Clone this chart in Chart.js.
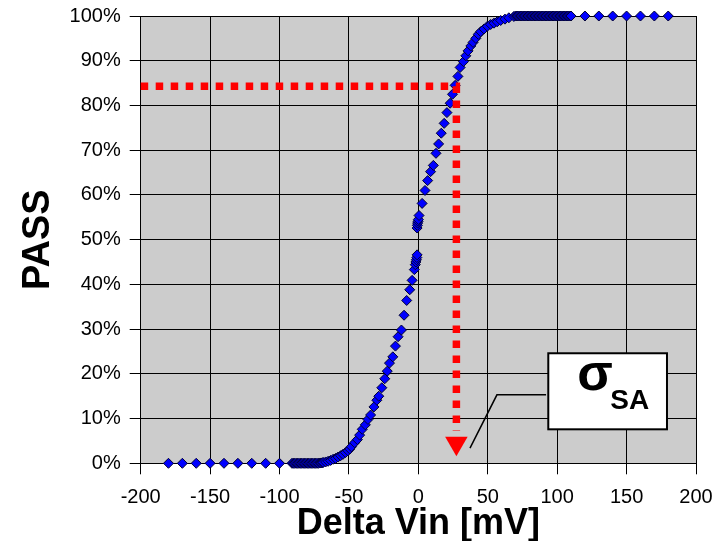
<!DOCTYPE html>
<html>
<head>
<meta charset="utf-8">
<script src="https://cdn.jsdelivr.net/npm/chart.js@4/dist/chart.umd.min.js"></script>
<style>
  html, body { margin: 0; padding: 0; background: #fff; }
</style>
</head>
<body>
<canvas id="grafico" width="724" height="541"></canvas>
<script>
// Delta Vin [mV]
const deltaVin = [
  -180, -170, -160, -150, -140, -130, -120, -110, -100,
  -91, -90, -89, -88, -87, -86, -85, -84, -83, -82, -81, -80,
  -79, -78, -77, -76, -75, -74, -73, -72, -71, -70, -69,
  -68.6, -66.8, -65.0, -63.2, -61.4, -59.6, -57.8, -56.0, -54.3, -52.5,
  -50.7, -49.4, -48.2, -45.9, -43.9, -42.3, -40.4, -38.2, -36.3, -34.4,
  -32.0, -29.9, -28.5, -26.3, -24.2, -22.4, -20.8, -18.4, -16.5, -14.6,
  -12.2, -10.3, -8.4, -6.2, -4.5, -2.9, -2.2, -1.8, -1.4, -1.1, -0.9,
  -0.9, -0.7, -0.5, -0.2, 0.0, 0.5, 2.7, 4.8, 6.7, 8.8, 10.8, 12.7,
  14.6, 16.5, 18.6, 20.6, 22.9, 24.6, 26.5, 28.5, 30.1, 32.5, 34.2,
  35.8, 37.8, 39.4, 41.4, 43.2, 44.9, 47.3, 49.7, 52.1, 54.5, 56.8,
  59.3, 62.4, 65.2, 68.8,
  70, 71, 72, 73, 74, 75, 76, 77, 78, 79, 80, 81, 82, 83, 84, 85,
  86, 87, 88, 89, 90, 91, 92, 93, 94, 95, 96, 97, 98, 99, 100,
  101, 102, 103, 104, 105, 106, 107, 108, 109, 110,
  120, 130, 140, 150, 160, 170, 180
];
// PASS [%]
const passPct = [
  0, 0, 0, 0, 0, 0, 0, 0, 0,
  0, 0, 0, 0, 0, 0, 0, 0, 0, 0, 0, 0,
  0, 0, 0, 0, 0, 0, 0, 0, 0.05, 0.08, 0.1,
  0.2, 0.3, 0.45, 0.65, 0.9, 1.1, 1.4, 1.7, 2.0, 2.4,
  2.8, 3.2, 3.7, 4.6, 5.3, 6.3, 7.6, 8.6, 9.8, 10.8,
  12.6, 14.1, 15.0, 16.9, 18.9, 20.6, 22.4, 23.8, 26.2, 28.3,
  29.8, 33.1, 36.4, 38.8, 40.9, 43.3, 44.4, 45.0, 45.5, 46.0, 46.6,
  52.6, 53.2, 53.7, 54.1, 54.5, 55.4, 58.1, 61.0, 63.2, 65.2, 66.6, 69.3,
  71.4, 73.8, 76.0, 78.4, 80.5, 82.5, 84.5, 86.5, 88.5, 89.8, 91.1,
  92.2, 93.3, 94.1, 95.0, 95.9, 96.5, 97.1, 97.7, 98.1, 98.4, 98.7,
  99.0, 99.3, 99.6, 99.9,
  100, 100, 100, 100, 100, 100, 100, 100, 100, 100, 100, 100, 100, 100, 100, 100,
  100, 100, 100, 100, 100, 100, 100, 100, 100, 100, 100, 100, 100, 100, 100,
  100, 100, 100, 100, 100, 100, 100, 100, 100, 100,
  100, 100, 100, 100, 100, 100, 100
];

// sigma read-out (red dotted guide)
const sigmaVin = 27.4;
const sigmaPass = 84.3;
const guideX = [-200, sigmaVin, sigmaVin];
const guideY = [sigmaPass, sigmaPass, 7.2];
const arrowY = 4.5;

const xTicks = [-200, -150, -100, -50, 0, 50, 100, 150, 200];

const puntos = deltaVin.map((v, i) => ({ x: v, y: passPct[i] }));
const guia = guideX.map((v, i) => ({ x: v, y: guideY[i] }));

const fondoGris = {
  id: 'fondoGris',
  beforeDraw(chart) {
    const a = chart.chartArea;
    const ctx = chart.ctx;
    ctx.save();
    ctx.fillStyle = '#cccccc';
    ctx.fillRect(a.left, a.top, a.width, a.height);
    ctx.restore();
  }
};

// leader line + sigma label box
const etiquetaSigma = {
  id: 'etiquetaSigma',
  afterDatasetsDraw(chart) {
    const ctx = chart.ctx;
    const xs = chart.scales.x, ys = chart.scales.y;
    ctx.save();
    ctx.strokeStyle = '#000';
    ctx.lineWidth = 1.5;
    ctx.beginPath();
    ctx.moveTo(xs.getPixelForValue(92), ys.getPixelForValue(15.3));
    ctx.lineTo(xs.getPixelForValue(56.6), ys.getPixelForValue(15.3));
    ctx.lineTo(xs.getPixelForValue(37.2), ys.getPixelForValue(3.4));
    ctx.stroke();

    const x0 = xs.getPixelForValue(93.6), x1 = xs.getPixelForValue(179.1);
    const y0 = ys.getPixelForValue(24.6), y1 = ys.getPixelForValue(7.6);
    ctx.fillStyle = '#fff';
    ctx.fillRect(x0, y0, x1 - x0, y1 - y0);
    ctx.lineWidth = 2;
    ctx.strokeRect(x0, y0, x1 - x0, y1 - y0);

    ctx.fillStyle = '#000';
    ctx.textBaseline = 'alphabetic';
    ctx.textAlign = 'left';
    ctx.font = 'bold 52px "Liberation Sans", Arial, sans-serif';
    ctx.fillText('σ', x0 + 29, y0 + 37);
    ctx.font = 'bold 28px "Liberation Sans", Arial, sans-serif';
    ctx.fillText('SA', x0 + 62, y0 + 56);
    ctx.restore();
  }
};

new Chart(document.getElementById('grafico'), {
  type: 'scatter',
  data: {
    datasets: [
      {
        data: guia,
        showLine: true,
        borderColor: '#ff0000',
        borderWidth: 7.5,
        borderDash: [7.5, 7.5],
        borderCapStyle: 'butt',
        pointRadius: 0,
        clip: false
      },
      {
        data: [{ x: sigmaVin, y: arrowY }],
        pointStyle: 'triangle',
        rotation: 180,
        pointRadius: 13,
        backgroundColor: '#ff0000',
        borderWidth: 0,
        clip: false
      },
      {
        data: puntos,
        pointStyle: 'rectRot',
        pointRadius: 5,
        backgroundColor: '#0000ff',
        borderColor: '#000033',
        borderWidth: 1,
        clip: false
      }
    ]
  },
  options: {
    responsive: false,
    animation: false,
    events: [],
    layout: { padding: { left: 0, right: 28, top: 16, bottom: 0 } },
    plugins: {
      legend: { display: false },
      tooltip: { enabled: false }
    },
    scales: {
      x: {
        type: 'linear',
        min: -200,
        max: 200,
        afterBuildTicks: (s) => { s.ticks = xTicks.map(v => ({ value: v })); },
        afterFit: (s) => { s.height = 77.7; },
        ticks: {
          color: '#000',
          padding: 11,
          maxRotation: 0,
          font: { family: '"Liberation Sans", Arial, sans-serif', size: 20 }
        },
        grid: { color: '#000', lineWidth: 1, tickLength: 11 },
        border: { color: '#000', width: 1 },
        title: {
          display: true,
          text: 'Delta Vin [mV]',
          color: '#000',
          padding: { top: 0, bottom: 2 },
          font: { family: '"Liberation Sans", Arial, sans-serif', size: 36, weight: 'bold', lineHeight: 0.85 }
        }
      },
      y: {
        min: 0,
        max: 100,
        afterFit: (s) => { s.width = 140.7; s.paddingTop = 0; s.paddingBottom = 0; },
        ticks: {
          stepSize: 10,
          color: '#000',
          padding: 9,
          callback: (v) => v + '%',
          font: { family: '"Liberation Sans", Arial, sans-serif', size: 20 }
        },
        grid: { color: '#000', lineWidth: 1, tickLength: 11 },
        border: { color: '#000', width: 1 },
        title: {
          display: true,
          text: 'PASS',
          color: '#000',
          padding: { top: 16, bottom: 0 },
          font: { family: '"Liberation Sans", Arial, sans-serif', size: 38, weight: 'bold', lineHeight: 1.2 }
        }
      }
    }
  },
  plugins: [fondoGris, etiquetaSigma]
});
</script>
</body>
</html>
